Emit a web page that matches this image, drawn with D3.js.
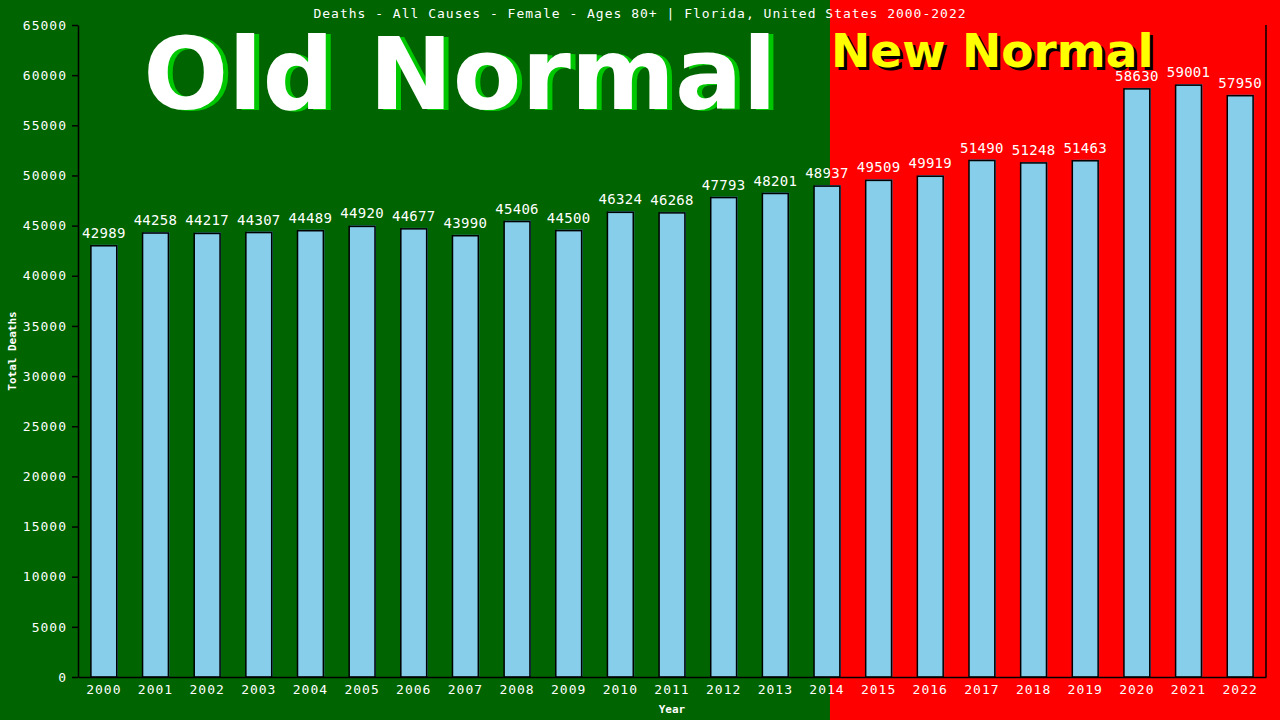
<!DOCTYPE html>
<html>
<head>
<meta charset="utf-8">
<script src="https://cdn.jsdelivr.net/npm/d3@7"></script>
<style>
  body { margin: 0; background: #006400; }
  svg { display: block; }
  text { font-family: "DejaVu Sans Mono", monospace; }
</style>
</head>
<body>
<svg id="canvas" width="1280" height="720"></svg>
<script>
// chart data
let years = ['2000','2001','2002','2003','2004','2005','2006','2007','2008','2009','2010','2011',
             '2012','2013','2014','2015','2016','2017','2018','2019','2020','2021','2022'];
let deaths = [42989,44258,44217,44307,44489,44920,44677,43990,45406,44500,46324,46268,
              47793,48201,48937,49509,49919,51490,51248,51463,58630,59001,57950];
let yTicks = [0,5000,10000,15000,20000,25000,30000,35000,40000,45000,50000,55000,60000,65000];
let splitYear = '2014';
let titleText = 'Deaths - All Causes - Female - Ages 80+ | Florida, United States 2000-2022';

let width = 1280, height = 720;
let margin = {left: 78, right: 14, top: 25, bottom: 43};

let canvas = d3.select('#canvas');

let x = d3.scaleBand()
  .domain(years)
  .range([margin.left, width - margin.right])
  .paddingInner(0.5)
  .paddingOuter(0.25);

let y = d3.scaleLinear()
  .domain([0, 65000])
  .range([height - margin.bottom, margin.top]);

// backgrounds: old normal (green) / new normal (red)
let splitX = x(splitYear) + x.bandwidth() / 2 + 3;
canvas.append('rect')
  .attr('x', 0).attr('y', 0)
  .attr('width', splitX).attr('height', height)
  .attr('fill', '#006400');
canvas.append('rect')
  .attr('x', splitX).attr('y', 0)
  .attr('width', width - splitX).attr('height', height)
  .attr('fill', '#ff0000');

// big labels
canvas.append('text')
  .attr('x', 465).attr('y', 110)
  .attr('text-anchor', 'middle')
  .style('font-family', '"DejaVu Sans", Verdana, sans-serif')
  .style('font-weight', 'bold')
  .style('font-size', '100px')
  .attr('fill', '#00c800')
  .text('Old Normal');
canvas.append('text')
  .attr('x', 460).attr('y', 109)
  .attr('text-anchor', 'middle')
  .style('font-family', '"DejaVu Sans", Verdana, sans-serif')
  .style('font-weight', 'bold')
  .style('font-size', '100px')
  .attr('fill', '#ffffff')
  .text('Old Normal');

canvas.append('text')
  .attr('x', splitX + 4).attr('y', 70)
  .style('font-family', '"DejaVu Sans", Verdana, sans-serif')
  .style('font-weight', 'bold')
  .style('font-size', '47px')
  .attr('fill', '#000000')
  .text('New Normal');
canvas.append('text')
  .attr('x', splitX + 1).attr('y', 67)
  .style('font-family', '"DejaVu Sans", Verdana, sans-serif')
  .style('font-weight', 'bold')
  .style('font-size', '47px')
  .attr('fill', '#ffff00')
  .text('New Normal');

// title
canvas.append('text')
  .attr('x', 640).attr('y', 18)
  .attr('text-anchor', 'middle')
  .style('font-size', '13px')
  .style('letter-spacing', '1px')
  .attr('fill', '#ffffff')
  .text(titleText);

// bars
let block = canvas.selectAll('g.bar')
  .data(years)
  .enter()
  .append('g')
  .attr('class', 'bar');

block.append('rect')
  .attr('x', (d) => x(d) + 1)
  .attr('y', (d, i) => y(deaths[i]) - 1)
  .attr('width', x.bandwidth())
  .attr('height', (d, i) => y(0) - y(deaths[i]))
  .attr('fill', '#4682b4');

block.append('rect')
  .attr('x', (d) => x(d))
  .attr('y', (d, i) => y(deaths[i]))
  .attr('width', x.bandwidth())
  .attr('height', (d, i) => y(0) - y(deaths[i]))
  .attr('fill', '#87ceeb')
  .attr('stroke', '#000000')
  .attr('stroke-width', 1.5);

block.append('text')
  .attr('x', (d) => x(d) + x.bandwidth() / 2)
  .attr('y', (d, i) => y(deaths[i]) - 8)
  .attr('text-anchor', 'middle')
  .style('font-size', '14px')
  .style('letter-spacing', '0.3px')
  .attr('fill', '#ffffff')
  .text((d, i) => deaths[i]);

// axes
let yAxis = d3.axisLeft(y).tickValues(yTicks).tickFormat(d3.format('d'))
  .tickSize(6).tickPadding(5).tickSizeOuter(0);
let yg = canvas.append('g')
  .attr('transform', 'translate(' + margin.left + ',0)')
  .call(yAxis);
yg.select('.domain').attr('stroke', '#000').attr('stroke-width', 1.5);
yg.selectAll('.tick line').attr('stroke', '#000').attr('stroke-width', 1.5);
yg.selectAll('.tick text')
  .attr('fill', '#ffffff')
  .style('font-family', '"DejaVu Sans Mono", monospace')
  .style('font-size', '13px')
  .style('letter-spacing', '1px');

let xAxis = d3.axisBottom(x).tickSize(0).tickPadding(8).tickSizeOuter(0);
let xg = canvas.append('g')
  .attr('transform', 'translate(0,' + y(0) + ')')
  .call(xAxis);
xg.select('.domain').attr('stroke', '#000').attr('stroke-width', 1.5);
xg.selectAll('.tick text')
  .attr('fill', '#ffffff')
  .style('font-family', '"DejaVu Sans Mono", monospace')
  .style('font-size', '13px')
  .style('letter-spacing', '1px');

// right border
canvas.append('line')
  .attr('x1', width - margin.right).attr('x2', width - margin.right)
  .attr('y1', y(65000)).attr('y2', y(0))
  .attr('stroke', '#000').attr('stroke-width', 1.5);

// axis titles
canvas.append('text')
  .attr('x', (margin.left + width - margin.right) / 2)
  .attr('y', 713)
  .attr('text-anchor', 'middle')
  .style('font-size', '11px')
  .style('font-weight', 'bold')
  .attr('fill', '#ffffff')
  .text('Year');

canvas.append('text')
  .attr('transform', 'translate(16,' + (height - margin.bottom + margin.top) / 2 + ') rotate(-90)')
  .attr('text-anchor', 'middle')
  .style('font-size', '11px')
  .style('font-weight', 'bold')
  .attr('fill', '#ffffff')
  .text('Total Deaths');
</script>
</body>
</html>
